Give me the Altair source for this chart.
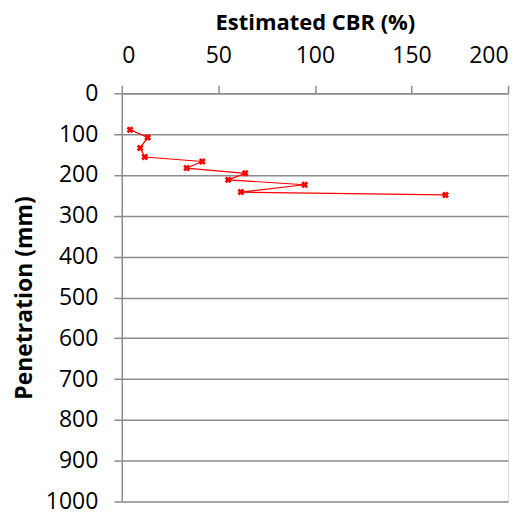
import altair as alt
import pandas as pd

cbr = [4.3, 13.4, 9.5, 11.9, 41.7, 33.6, 63.9, 55.1, 94.7, 61.7, 167.6]
depth = [89, 108, 134, 156, 167, 183, 196, 212, 224, 242, 249]
order = list(range(len(cbr)))

df = pd.DataFrame({"cbr": cbr, "depth": depth, "order": order})

FONT = "Open Sans"
GRAY = "#8c8c8c"

x = alt.X("cbr:Q", scale=alt.Scale(domain=[0, 200], nice=False),
          axis=alt.Axis(orient="top", title="Estimated CBR (%)", values=[0, 50, 100, 150, 200],
                        format="d", grid=False, tickSize=8, tickColor=GRAY, domainColor=GRAY,
                        domainWidth=1.5, tickWidth=1.5, labelPadding=18, labelFontSize=23,
                        labelFont=FONT, labelColor="#000000", titleFont=FONT, titleFontSize=22,
                        titleFontWeight="bold", titleColor="#000000", titlePadding=10))
y = alt.Y("depth:Q", scale=alt.Scale(domain=[0, 1000], reverse=True, nice=False),
          axis=alt.Axis(orient="left", title="Penetration (mm)", values=list(range(0, 1001, 100)),
                        format="d", grid=True, gridColor=GRAY, gridWidth=1.5, tickSize=8,
                        tickColor=GRAY, tickWidth=1.5, domainColor=GRAY, domainWidth=1.5,
                        labelPadding=16, labelFontSize=23, labelFont=FONT, labelColor="#000000",
                        titleFont=FONT, titleFontSize=23, titleFontWeight="bold",
                        titleColor="#000000", titlePadding=9))

line = alt.Chart(df).mark_line(color="#ff0000", strokeWidth=1.2).encode(
    x=x, y=y, order="order:Q")
pts = alt.Chart(df).mark_point(shape="cross", angle=45, filled=True, color="#ff0000",
                               size=50, opacity=1).encode(x="cbr:Q", y="depth:Q")

chart = (line + pts).properties(
    width=387, height=409,
    autosize=alt.AutoSizeParams(type="none"),
    padding={"left": 114, "top": 85, "right": 15, "bottom": 16},
).configure_view(stroke=None).configure(background="white")

chart.save("out.html", embed_options={"renderer": "svg", "actions": False})
